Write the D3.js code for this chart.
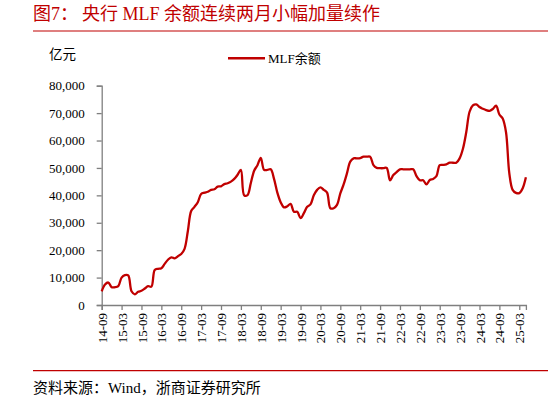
<!DOCTYPE html>
<html>
<head>
<meta charset="utf-8">
<script src="https://cdn.jsdelivr.net/npm/d3@7"></script>
<style>
  html, body { margin: 0; padding: 0; background: #fff; }
  svg { display: block; }
</style>
</head>
<body>
<div id="chart"></div>
<script>
const TITLE_NO = "图7："
const TITLE = "央行 MLF 余额连续两月小幅加量续作"
const UNIT = "亿元"
const SERIES_NAME = "MLF余额"
const SOURCE = "资料来源：Wind，浙商证券研究所"

// MLF 余额（亿元），月度，2014-09 起
const v2014 = [5000, 7500, 8200, 6500]
const v2015 = [6500, 6900, 10000, 10900, 10800, 5000, 3900, 4800, 5200, 6000, 6900, 6700]
const v2016 = [12800, 13200, 13400, 15000, 16500, 17400, 17000, 17800, 18600, 20500, 27000, 34300]
const v2017 = [35800, 37500, 40500, 41000, 41300, 42000, 42200, 43200, 43300, 44100, 44400, 45000]
const v2018 = [46000, 47500, 49300, 40000, 40100, 44500, 49000, 51000, 53700, 49300, 49300, 49500]
const v2019 = [46000, 41000, 37500, 35600, 36000, 36900, 34000, 34000, 31700, 33500, 35800, 36700]
const v2020 = [40000, 42000, 42900, 42000, 41000, 35300, 35300, 36500, 40700, 44000, 48000, 52300]
const v2021 = [53500, 53500, 53600, 54100, 54100, 54100, 51000, 50000, 49900, 49900, 50000, 45500]
const v2022 = [47400, 48500, 49500, 49500, 49500, 49500, 49500, 47000, 45500, 45500, 44000, 45600]
const v2023 = [46000, 47000, 51000, 51100, 51300, 51900, 51900, 51900, 53500, 57000, 63000, 70500]
const v2024 = [72800, 73200, 72200, 71600, 71100, 70800, 71500, 72700, 69500, 68000, 63000, 48000]
const v2025 = [42000, 40900, 40800, 42500, 46600]

const tickLabels = ["14-09","15-03","15-09","16-03","16-09","17-03","17-09","18-03","18-09","19-03","19-09",
  "20-03","20-09","21-03","21-09","22-03","22-09","23-03","23-09","24-03","24-09","25-03"]
const yTicks = [0, 10000, 20000, 30000, 40000, 50000, 60000, 70000, 80000]

const values = [].concat(v2014, v2015, v2016, v2017, v2018, v2019, v2020, v2021, v2022, v2023, v2024, v2025)
const data = values.map((v, i) => ({ i, v }))

const RED = "#c00000"
const AXIS = "#7f7f7f"
const FONT = "'Liberation Serif', 'Times New Roman', 'Noto Sans CJK SC', serif"

const width = 548, height = 402
const plot = { left: 101.7, right: 525.9, top: 85.7, bottom: 305 }

const svg = d3.select("#chart").append("svg")
  .attr("width", width).attr("height", height)
  .attr("font-family", FONT)

// title + rules
svg.append("text").attr("x", 33).attr("y", 13.5)
  .attr("dominant-baseline", "central")
  .attr("font-size", 18).attr("fill", RED).text(TITLE_NO)
svg.append("text").attr("x", 82).attr("y", 13.5)
  .attr("dominant-baseline", "central")
  .attr("font-size", 18).attr("fill", RED).text(TITLE)
svg.append("line").attr("x1", 33).attr("x2", width).attr("y1", 31).attr("y2", 31)
  .attr("stroke", RED).attr("stroke-width", 1.2)

svg.append("line").attr("x1", 33).attr("x2", width).attr("y1", 370.7).attr("y2", 370.7)
  .attr("stroke", RED).attr("stroke-width", 1.2)
svg.append("text").attr("x", 33).attr("y", 388)
  .attr("dominant-baseline", "central")
  .attr("font-size", 15).attr("fill", "#000").text(SOURCE)

// unit + legend
svg.append("text").attr("x", 49).attr("y", 54)
  .attr("dominant-baseline", "central")
  .attr("font-size", 13.5).text(UNIT)
svg.append("line").attr("x1", 228).attr("x2", 265).attr("y1", 58.3).attr("y2", 58.3)
  .attr("stroke", RED).attr("stroke-width", 2.5)
svg.append("text").attr("x", 268).attr("y", 58.3)
  .attr("dominant-baseline", "central")
  .attr("font-size", 13).text(SERIES_NAME)

// scales
const x = d3.scaleLinear().domain([0, values.length - 1]).range([plot.left, plot.right])
const y = d3.scaleLinear().domain([0, 80000]).range([plot.bottom, plot.top])

// y axis
const gy = svg.append("g")
  .attr("transform", `translate(${plot.left},0)`)
  .call(d3.axisLeft(y).tickValues(yTicks).tickFormat(d3.format(",")).tickSize(5).tickPadding(12))
gy.select(".domain").attr("stroke", AXIS).attr("stroke-width", 1.3)
gy.selectAll(".tick line").attr("stroke", AXIS).attr("stroke-width", 1.3)
gy.selectAll("text").attr("font-size", 13).attr("font-family", FONT).attr("fill", "#000")

// x axis
const xTickIdx = tickLabels.map((d, k) => k * 6)
const gx = svg.append("g")
  .attr("transform", `translate(0,${plot.bottom})`)
  .call(d3.axisBottom(x).tickValues(xTickIdx).tickFormat((d, k) => tickLabels[k]).tickSizeOuter(0).tickSize(5))
gx.select(".domain").attr("stroke", AXIS).attr("stroke-width", 1.3)
gx.selectAll(".tick line").attr("stroke", AXIS).attr("stroke-width", 1.3)
gx.selectAll("text")
  .attr("font-size", 13).attr("font-family", FONT).attr("fill", "#000")
  .attr("transform", "rotate(-90)")
  .attr("text-anchor", "end")
  .attr("dy", "0.35em")
  .attr("x", -8).attr("y", 0)

// the line
const line = d3.line()
  .x(d => x(d.i))
  .y(d => y(d.v))
  .curve(d3.curveCatmullRom.alpha(0.5))

svg.append("path")
  .datum(data)
  .attr("fill", "none")
  .attr("stroke", RED)
  .attr("stroke-width", 2.3)
  .attr("stroke-linejoin", "round")
  .attr("d", line)
</script>
</body>
</html>
